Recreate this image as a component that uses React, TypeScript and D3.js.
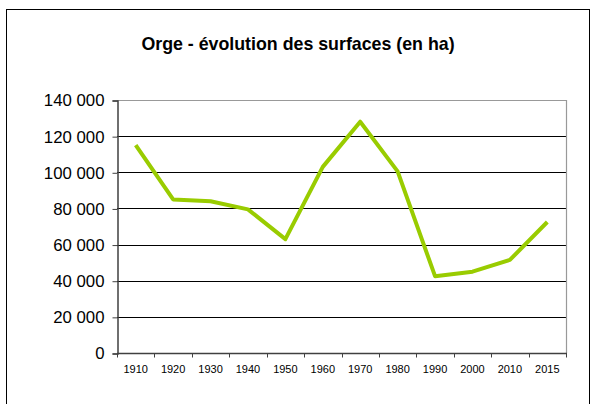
import React, { useRef, useEffect } from "react";
import * as d3 from "d3";

// barley surface area (ha)
const years = ["1910", "1920", "1930", "1940", "1950", "1960", "1970", "1980", "1990", "2000", "2010", "2015"];
const surfaces = [115000, 85000, 84000, 79500, 63000, 103000, 128000, 100500, 42500, 45000, 51500, 72500];
const yTicks = [0, 20000, 40000, 60000, 80000, 100000, 120000, 140000];
const title = "Orge - évolution des surfaces (en ha)";

const W = 594;
const H = 404;
const plot = { left: 117, right: 566, top: 100, bottom: 353 };
const font = "'Liberation Sans', Arial, sans-serif";

const fmt = (v: number) => d3.format(",")(v).replace(/,/g, " ");

const App = () => {
	const svgRef = useRef<SVGSVGElement>(null);

	useEffect(() => {
		const svg = d3.select(svgRef.current);
		svg.selectChildren().remove();

		// frame around the whole chart
		svg.append("rect")
			.attr("x", 6.5).attr("y", 9.5)
			.attr("width", 583).attr("height", 420)
			.attr("fill", "white").attr("stroke", "black").attr("stroke-width", 1);

		svg.append("text")
			.attr("x", 298).attr("y", 50)
			.attr("text-anchor", "middle")
			.style("font-family", font).style("font-size", "17.8px").style("font-weight", "bold")
			.text(title);

		const x = d3.scaleBand().domain(years).range([plot.left, plot.right]);
		const y = d3.scaleLinear().domain([0, 140000]).range([plot.bottom, plot.top]);

		// gridlines
		svg.append("g")
			.selectAll("line")
			.data(yTicks.slice(1, -1))
			.join("line")
			.attr("x1", plot.left).attr("x2", plot.right)
			.attr("y1", d => Math.round(y(d)) + 0.5).attr("y2", d => Math.round(y(d)) + 0.5)
			.attr("stroke", "black").attr("stroke-width", 1);

		// top and right border of plot area
		svg.append("path")
			.attr("d", `M${plot.left},${plot.top + 0.5}H${plot.right + 0.5}V${plot.bottom}`)
			.attr("fill", "none").attr("stroke", "#999").attr("stroke-width", 1.2);

		// y axis
		const yAxis = svg.append("g")
			.attr("transform", `translate(${plot.left + 0.5},0.5)`)
			.call(d3.axisLeft(y).tickValues(yTicks).tickSize(5).tickPadding(8).tickFormat(d => fmt(d as number)));
		yAxis.select(".domain").attr("stroke", "#404040").attr("stroke-width", 1.5);
		yAxis.selectAll(".tick line").attr("stroke", "#404040");
		yAxis.selectAll("text")
			.attr("fill", "black")
			.style("font-family", font).style("font-size", "16.8px");

		// x axis, ticks on category boundaries
		const xAxis = svg.append("g").attr("transform", `translate(0,${plot.bottom + 0.5})`);
		xAxis.append("line")
			.attr("x1", plot.left).attr("x2", plot.right + 1)
			.attr("stroke", "#404040").attr("stroke-width", 1.5);
		xAxis.selectAll("line.tk")
			.data(years.map(d => x(d)!).concat([plot.right]))
			.join("line")
			.attr("class", "tk")
			.attr("x1", d => Math.round(d) + 0.5).attr("x2", d => Math.round(d) + 0.5)
			.attr("y1", 0).attr("y2", 4)
			.attr("stroke", "#404040");
		xAxis.selectAll("text")
			.data(years)
			.join("text")
			.attr("x", d => x(d)! + x.bandwidth() / 2)
			.attr("y", 19)
			.attr("text-anchor", "middle")
			.style("font-family", font).style("font-size", "11px")
			.text(d => d);

		// series line
		const line = d3.line<number>()
			.x((_, i) => x(years[i])! + x.bandwidth() / 2)
			.y(d => y(d));
		svg.append("path")
			.datum(surfaces)
			.attr("fill", "none")
			.attr("stroke", "#99CC00")
			.attr("stroke-width", 4)
			.attr("stroke-linejoin", "round")
			.attr("d", line);
	});

	return (
		<svg ref={svgRef} width={W} height={H} style={{ position: "absolute", left: 0, top: 0 }}></svg>
	);
};

export default App;
